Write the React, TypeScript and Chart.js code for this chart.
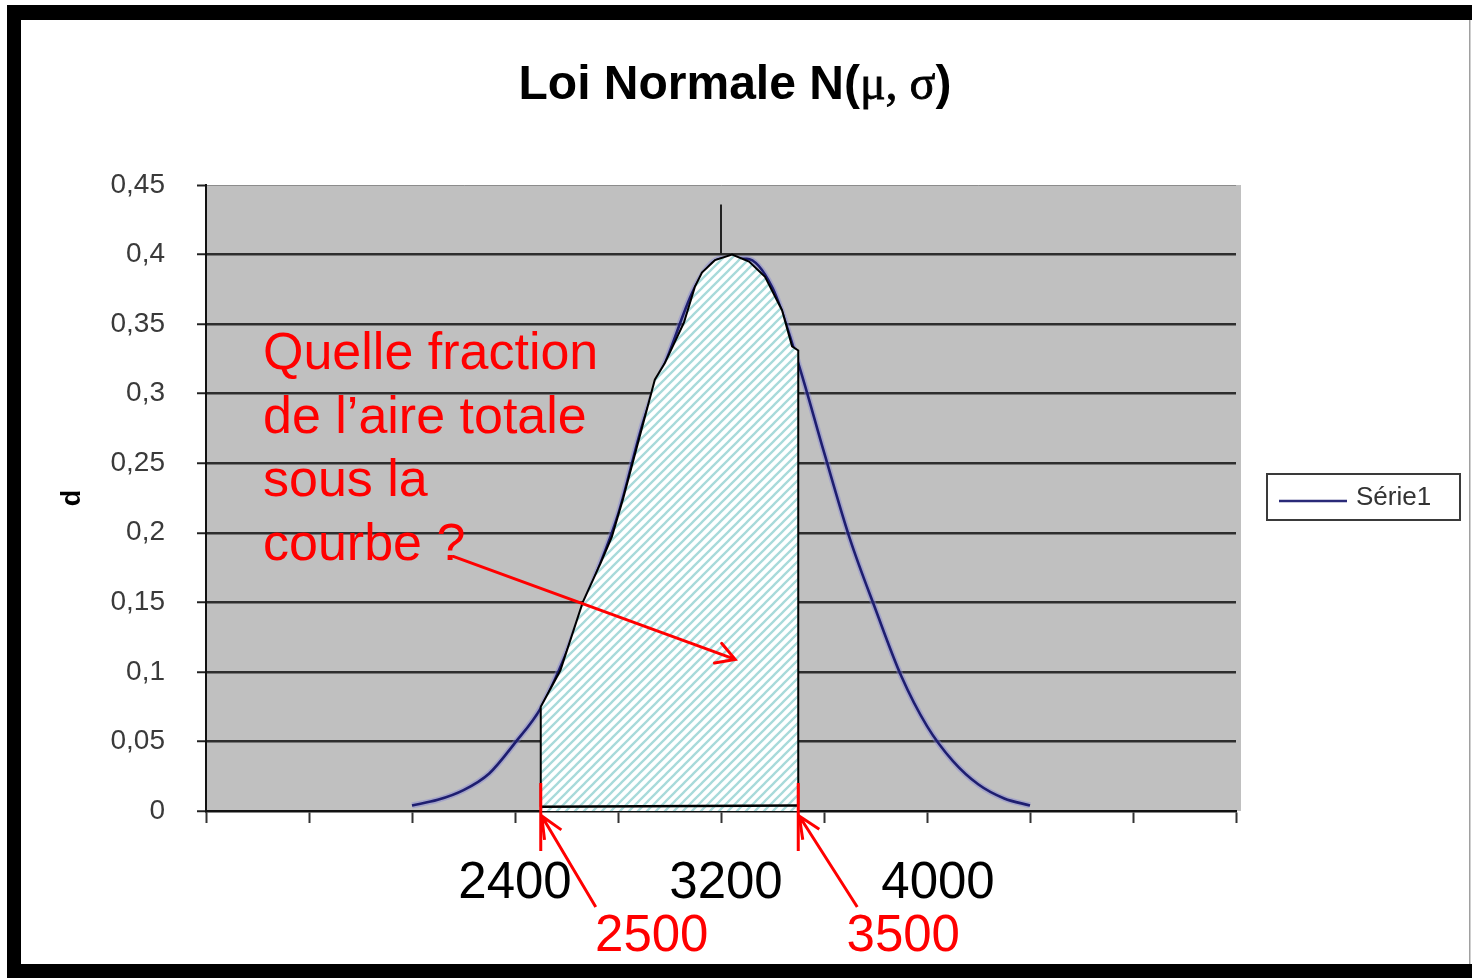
import React, { useEffect, useRef } from "react";
import { Chart, registerables } from "chart.js";

Chart.register(...registerables);

// ---------- text ----------
const TITLE_MAIN = "Loi Normale N(";
const TITLE_GREEK = "μ, σ";
const TITLE_END = ")";
const Y_TITLE = "d";
const SERIES_LABEL = "Série1";
const QUESTION_LINES = ["Quelle fraction", "de l’aire totale", "sous la", "courbe ?"];

// ---------- axes ----------
const X_MIN = 1200;
const X_MAX = 5200;
const X_STEP = 400;
const Y_MIN = 0;
const Y_MAX = 0.45;
const Y_STEP = 0.05;

// ---------- series ----------
const curveX = [2000, 2100, 2200, 2300, 2400, 2500, 2600, 2700, 2800, 2900, 3000, 3100, 3200,
  3300, 3400, 3500, 3600, 3700, 3800, 3900, 4000, 4100, 4200, 4300, 4400];
const curveY = [0.004, 0.008, 0.015, 0.027, 0.049, 0.074, 0.114, 0.163, 0.213, 0.281, 0.330, 0.377, 0.397,
  0.397, 0.376, 0.322, 0.258, 0.196, 0.145, 0.097, 0.061, 0.036, 0.019, 0.009, 0.004];

// hatched area between 2500 and 3500
const hatchX = [2500, 2500, 2576, 2663, 2732, 2776, 2819, 2943, 2982, 3056, 3099, 3126, 3177, 3243,
  3309, 3371, 3437, 3476, 3500, 3500];
const hatchY = [0.003, 0.075, 0.101, 0.150, 0.178, 0.197, 0.224, 0.310, 0.322, 0.351, 0.377, 0.387, 0.396, 0.400,
  0.395, 0.384, 0.360, 0.334, 0.331, 0.004];
const baseX = [2500, 3500];
const baseY = [0.003, 0.004];

// mean marker above the peak
const meanX = [3200, 3200];
const meanY = [0.400, 0.436];

// annotated values
const axisLabels = ["2400", "3200", "4000"];
const axisLabelValues = [2400, 3200, 4000];
const boundLabels = ["2500", "3500"];
const boundValues = [2500, 3500];

// question arrow (data coordinates)
const arrowFromX = 2160;
const arrowFromY = 0.183;
const arrowToX = 3255;
const arrowToY = 0.109;

const fmtY = (v: number) => String(Math.round(v * 100) / 100).replace(".", ",");

function makeHatch(): CanvasPattern | string {
  const c = document.createElement("canvas");
  const s = 9;
  c.width = s;
  c.height = s;
  const g = c.getContext("2d");
  if (!g) return "#d6eeee";
  g.fillStyle = "#ffffff";
  g.fillRect(0, 0, s, s);
  g.strokeStyle = "#a8dada";
  g.lineWidth = 2.3;
  g.beginPath();
  g.moveTo(-1, s + 1);
  g.lineTo(s + 1, -1);
  g.moveTo(-2, 2);
  g.lineTo(2, -2);
  g.moveTo(s - 2, s + 2);
  g.lineTo(s + 2, s - 2);
  g.stroke();
  const p = g.createPattern(c, "repeat");
  return p || "#d6eeee";
}

function arrow(ctx: CanvasRenderingContext2D, x1: number, y1: number, x2: number, y2: number, head: number, ang: number) {
  const t = Math.atan2(y2 - y1, x2 - x1);
  ctx.beginPath();
  ctx.moveTo(x1, y1);
  ctx.lineTo(x2, y2);
  ctx.moveTo(x2 - head * Math.cos(t - ang), y2 - head * Math.sin(t - ang));
  ctx.lineTo(x2, y2);
  ctx.lineTo(x2 - head * Math.cos(t + ang), y2 - head * Math.sin(t + ang));
  ctx.stroke();
}

const decor = {
  id: "decor",
  beforeDraw(chart: any) {
    const { ctx, chartArea: a, width, height } = chart;
    ctx.save();
    ctx.fillStyle = "#ffffff";
    ctx.fillRect(0, 0, width, height);
    // frame
    ctx.fillStyle = "#000000";
    ctx.fillRect(7, 5, width - 7, 15);
    ctx.fillRect(7, 5, 14, height - 5);
    ctx.fillRect(7, 964, width - 7, height - 964);
    ctx.fillStyle = "#a0a0a0";
    ctx.fillRect(1469, 20, 1.5, 944);
    // plot background
    ctx.fillStyle = "#c0c0c0";
    ctx.fillRect(a.left, a.top, a.right - a.left + 5, a.bottom - a.top);
    ctx.restore();
  },
  afterDraw(chart: any) {
    const { ctx, chartArea: a } = chart;
    const xs = chart.scales.x;
    const ys = chart.scales.y;
    ctx.save();

    // title
    const fSans = "bold 48px 'Liberation Sans', Arial, sans-serif";
    const fSerif = "48px 'Liberation Serif', 'Times New Roman', serif";
    ctx.font = fSans;
    const w1 = ctx.measureText(TITLE_MAIN).width;
    const w3 = ctx.measureText(TITLE_END).width;
    ctx.font = fSerif;
    const w2 = ctx.measureText(TITLE_GREEK).width;
    let tx = 735 - (w1 + w2 + w3) / 2;
    const ty = 99;
    ctx.fillStyle = "#000000";
    ctx.textBaseline = "alphabetic";
    ctx.textAlign = "left";
    ctx.font = fSans;
    ctx.fillText(TITLE_MAIN, tx, ty);
    tx += w1;
    ctx.font = fSerif;
    ctx.fillText(TITLE_GREEK, tx, ty);
    ctx.lineWidth = 0.8;
    ctx.strokeStyle = "#000";
    ctx.strokeText(TITLE_GREEK, tx, ty);
    tx += w2;
    ctx.font = fSans;
    ctx.fillText(TITLE_END, tx, ty);

    // legend
    const lx = 1267, ly = 474, lw = 193, lh = 46;
    ctx.strokeStyle = "#3a3a3a";
    ctx.lineWidth = 2;
    ctx.strokeRect(lx, ly, lw, lh);
    ctx.strokeStyle = "#2a2a78";
    ctx.lineWidth = 2.5;
    ctx.beginPath();
    ctx.moveTo(lx + 12, ly + 27);
    ctx.lineTo(lx + 80, ly + 27);
    ctx.stroke();
    ctx.fillStyle = "#333333";
    ctx.font = "26px 'Liberation Sans', Arial, sans-serif";
    ctx.textBaseline = "middle";
    ctx.fillText(SERIES_LABEL, lx + 89, ly + 24);

    // question text
    ctx.fillStyle = "#ff0000";
    ctx.font = "52px 'Liberation Sans', Arial, sans-serif";
    ctx.textBaseline = "alphabetic";
    QUESTION_LINES.forEach((line, i) => {
      ctx.fillText(line, a.left + 57, a.top + 184 + i * 63.5);
    });

    // question arrow
    ctx.strokeStyle = "#ff0000";
    ctx.lineWidth = 3;
    ctx.lineCap = "round";
    arrow(ctx, xs.getPixelForValue(arrowFromX), ys.getPixelForValue(arrowFromY),
      xs.getPixelForValue(arrowToX), ys.getPixelForValue(arrowToY), 21, 0.52);

    // bound markers
    ctx.lineCap = "butt";
    boundValues.forEach((v, i) => {
      const px = xs.getPixelForValue(v);
      ctx.beginPath();
      ctx.moveTo(px, a.bottom - 28);
      ctx.lineTo(px, a.bottom + 40);
      ctx.stroke();
      arrow(ctx, px + 55 + (i === 1 ? 4 : 0), a.bottom + 96, px + 1, a.bottom + 5, 24, 0.42);
    });

    // axis labels
    ctx.textAlign = "center";
    ctx.font = "51px 'Liberation Sans', Arial, sans-serif";
    ctx.fillStyle = "#000000";
    const blackOff = [0, 5, 11];
    axisLabels.forEach((t, i) => {
      ctx.fillText(t, xs.getPixelForValue(axisLabelValues[i]) + blackOff[i], a.bottom + 87);
    });
    ctx.fillStyle = "#ff0000";
    boundLabels.forEach((t, i) => {
      ctx.fillText(t, xs.getPixelForValue(boundValues[i]) + (i === 0 ? 111 : 105), a.bottom + 140);
    });

    ctx.restore();
  },
};

export default function App() {
  const ref = useRef<HTMLCanvasElement>(null);

  useEffect(() => {
    if (!ref.current) return;
    const hatch = makeHatch();
    const pts = (xs: number[], ys: number[]) => xs.map((x, i) => ({ x, y: ys[i] }));
    const chart = new Chart(ref.current, {
      type: "line",
      data: {
        datasets: [
          {
            label: "mean",
            data: pts(meanX, meanY),
            borderColor: "#222222",
            borderWidth: 2,
            pointRadius: 0,
            fill: false,
          },
          {
            label: "base",
            data: pts(baseX, baseY),
            borderColor: "#000000",
            borderWidth: 2.5,
            pointRadius: 0,
            fill: false,
          },
          {
            label: "hatch",
            data: pts(hatchX, hatchY),
            borderColor: "#000000",
            borderWidth: 2,
            backgroundColor: hatch as any,
            pointRadius: 0,
            tension: 0,
            fill: "origin",
          },
          {
            label: SERIES_LABEL,
            data: pts(curveX, curveY),
            borderColor: "#1e1e70",
            borderWidth: 2.6,
            pointRadius: 0,
            cubicInterpolationMode: "monotone",
            fill: false,
          },
          {
            label: "halo",
            data: pts(curveX, curveY),
            borderColor: "rgba(130,130,210,0.45)",
            borderWidth: 6,
            pointRadius: 0,
            cubicInterpolationMode: "monotone",
            fill: false,
          },
        ],
      },
      plugins: [decor],
      options: {
        animation: false,
        responsive: false,
        devicePixelRatio: 1,
        layout: { padding: { left: 0, top: 185, right: 236, bottom: 0 } },
        plugins: {
          legend: { display: false },
          tooltip: { enabled: false },
          title: { display: false },
        },
        scales: {
          x: {
            type: "linear",
            min: X_MIN,
            max: X_MAX,
            ticks: { display: false, stepSize: X_STEP },
            grid: {
              drawOnChartArea: false,
              drawTicks: true,
              tickLength: 12,
              tickWidth: 2,
              tickColor: "#333333",
            },
            border: { color: "#111111", width: 2.5 },
            afterFit: (s: any) => {
              s.height = 978 - 811;
            },
          },
          y: {
            type: "linear",
            min: Y_MIN,
            max: Y_MAX,
            ticks: {
              stepSize: Y_STEP,
              padding: 32,
              color: "#3a3a3a",
              font: { family: "'Liberation Sans', Arial, sans-serif", size: 28 },
              callback: (v: any) => fmtY(Number(v)),
            },
            grid: {
              drawTicks: true,
              tickLength: 9,
              tickWidth: 2,
              tickColor: "#222222",
              color: (c: any) => {
                const v = c.tick ? c.tick.value : 0;
                if (Math.abs(v - Y_MAX) < 1e-6) return "#8c8c8c";
                if (Math.abs(v) < 1e-6) return "rgba(0,0,0,0)";
                return "#2e2e2e";
              },
              lineWidth: (c: any) => {
                const v = c.tick ? c.tick.value : 0;
                return Math.abs(v - Y_MAX) < 1e-6 ? 1 : 2.5;
              },
            },
            border: { color: "#111111", width: 2 },
            title: {
              display: true,
              text: Y_TITLE,
              color: "#000000",
              font: { family: "'Liberation Sans', Arial, sans-serif", size: 27, weight: "bold" },
              padding: { top: 56, bottom: 0 },
            },
            afterFit: (s: any) => {
              s.width = 206;
            },
          },
        },
      },
    } as any);
    return () => chart.destroy();
  }, []);

  return (
    <div style={{ position: "fixed", left: 0, top: 0, width: 1472, height: 978, background: "#fff" }}>
      <canvas ref={ref} width={1472} height={978} style={{ display: "block", width: 1472, height: 978 }} />
    </div>
  );
}
